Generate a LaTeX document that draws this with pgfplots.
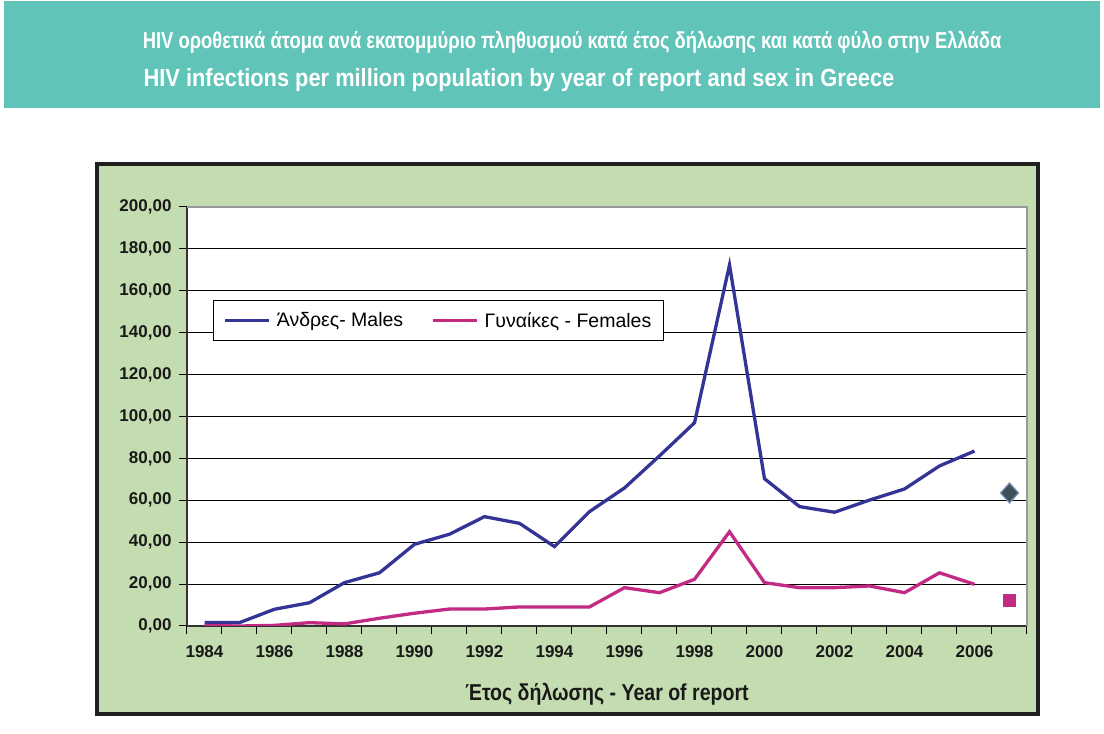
\documentclass[border=0pt]{standalone}
\usepackage{pgfplots}
\pgfplotsset{compat=1.18}
\usepackage{fontspec}
\setmainfont{Liberation Sans}
\newfontfamily\condfont[FakeStretch=0.8]{Liberation Sans}
\newfontfamily\condfontb[FakeStretch=0.88]{Liberation Sans}
\newfontfamily\condfontc[FakeStretch=0.85]{Liberation Sans}
\definecolor{bannerteal}{HTML}{61C4B9}
\definecolor{chartgreen}{HTML}{C4DDB0}
\definecolor{maleblue}{HTML}{343497}
\definecolor{femmag}{HTML}{C22A84}
\definecolor{slate}{HTML}{3E5156}
\definecolor{slateedge}{HTML}{7C90B8}
\begin{document}
\begin{tikzpicture}[x=1pt,y=1pt]
\useasboundingbox (0,0) rectangle (1104,734);
\fill[white] (0,0) rectangle (1104,734);
\fill[bannerteal] (4,626) rectangle (1100,733);
\node[text=white, font=\condfont\bfseries\fontsize{23}{26}\selectfont] at (572,692) {HIV οροθετικά άτομα ανά εκατομμύριο πληθυσμού κατά έτος δήλωσης και κατά φύλο στην Ελλάδα};
\node[text=white, font=\condfontb\bfseries\fontsize{24.8}{26}\selectfont] at (519,654) {HIV infections per million population by year of report and sex in Greece};
\filldraw[fill=chartgreen, draw=black!88, line width=4] (97,570) rectangle (1038,20);
\begin{axis}[
  at={(187pt,108pt)}, anchor=south west,
  scale only axis, width=840pt, height=419pt,
  xmin=1983.5, xmax=2007.5, ymin=0, ymax=200,
  axis background/.style={fill=white},
  axis x line*=bottom, axis y line*=left,
  axis line style={black!80, line width=1.5pt},
  xtick={1983.5,1984.5,...,2007.5}, xticklabels={},
  extra x ticks={1984,1986,1988,1990,1992,1994,1996,1998,2000,2002,2004,2006},
  extra x tick labels={1984,1986,1988,1990,1992,1994,1996,1998,2000,2002,2004,2006},
  extra x tick style={major tick length=0pt, xticklabel style={yshift=-16pt}},
  ytick={0,20,...,200},
  scaled y ticks=false,
  yticklabel style={xshift=-4pt, /pgf/number format/fixed, /pgf/number format/fixed zerofill, /pgf/number format/precision=2, /pgf/number format/use comma},
  /pgf/number format/assume math mode=true,
  tick label style={font=\bfseries\fontsize{17}{17}\selectfont, text=black!90},
  tick align=outside, major tick length=8pt,
  tick style={black, line width=1pt},
  ymajorgrids, grid style={black, line width=1pt},
  xlabel={Έτος δήλωσης - Year of report},
  xlabel style={font=\condfontc\bfseries\fontsize{23}{23}\selectfont, text=black!90, at={(axis description cs:0.5,-0.162)}, anchor=center},
  legend style={at={(0.031,0.778)}, anchor=north west, draw=black, line width=0.8pt,
    font=\fontsize{19.5}{19.5}\selectfont, legend columns=2,
    /tikz/every even column/.append style={column sep=26pt},
    inner xsep=10pt, inner ysep=10pt},
  legend cell align=left,
  legend image code/.code={\draw[#1, line width=3.5pt] (0pt,0pt) -- (44pt,0pt); \path (48pt,0pt);},
  after end axis/.code={\draw[black!40, line width=1.8pt] (rel axis cs:0,1) -- (rel axis cs:1,1) -- (rel axis cs:1,0);},
]
\addplot[maleblue, line width=3.3pt] coordinates {
(1984,1.6) (1985,1.6) (1986,8.0) (1987,11.1) (1988,20.7) (1989,25.4) (1990,39.0)
(1991,43.8) (1992,52.2) (1993,49.0) (1994,37.9) (1995,54.6) (1996,65.9) (1997,81.2)
(1998,97.0) (1999,172.3) (2000,70.3) (2001,57.0) (2002,54.3) (2003,60.1) (2004,65.4)
(2005,76.4) (2006,83.5)};
\addlegendentry{Άνδρες- Males}
\addplot[femmag, line width=3.3pt] coordinates {
(1984,0.2) (1985,0.0) (1986,0.3) (1987,1.6) (1988,1.0) (1989,3.7) (1990,6.1)
(1991,8.1) (1992,8.1) (1993,9.1) (1994,9.1) (1995,9.1) (1996,18.3) (1997,15.9)
(1998,22.3) (1999,45.0) (2000,20.7) (2001,18.3) (2002,18.3) (2003,19.1) (2004,15.9)
(2005,25.4) (2006,19.9)};
\addlegendentry{Γυναίκες - Females}
\addplot[forget plot, only marks, mark=diamond*, mark size=10pt, mark options={fill=slate, draw=slateedge, line width=1.2pt, xscale=1.2}] coordinates {(2007,63.5)};
\addplot[forget plot, only marks, mark=square*, mark size=6pt, mark options={fill=femmag, draw=femmag}] coordinates {(2007,12.4)};
\end{axis}
\end{tikzpicture}
\end{document}
